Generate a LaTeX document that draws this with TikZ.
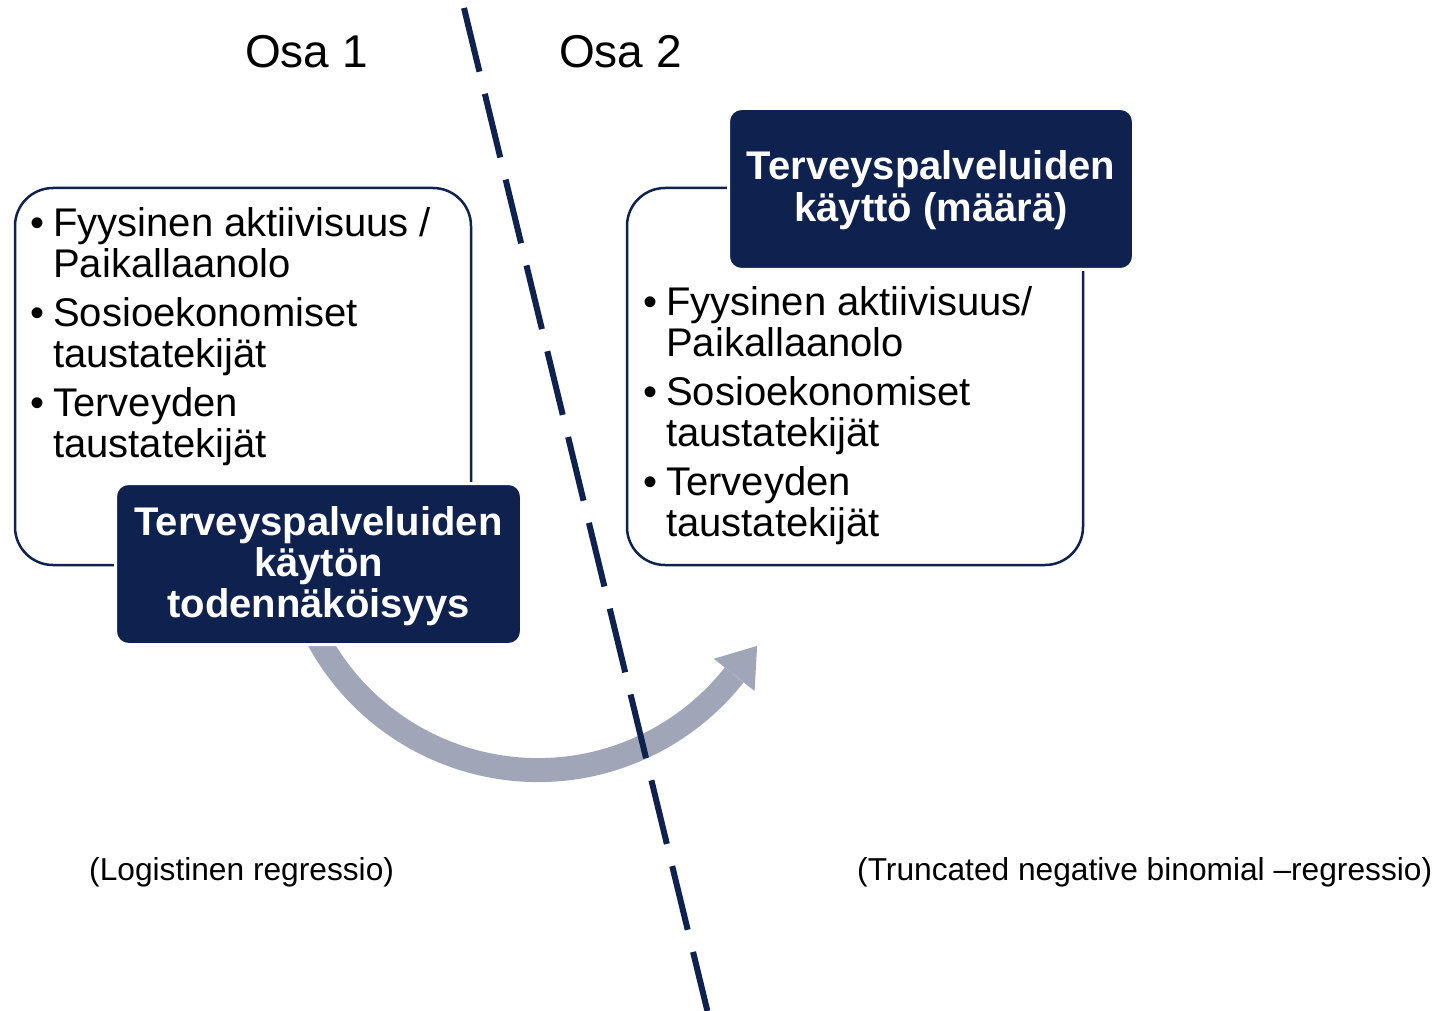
\documentclass[tikz,border=0pt]{standalone}
\usepackage{fontspec}
\setmainfont{Liberation Sans}
\definecolor{navy}{HTML}{0F214F}
\definecolor{arrowgray}{HTML}{A0A6B8}
\begin{document}
\begin{tikzpicture}[x=1pt,y=-1pt,
  outlinebox/.style={draw=navy, line width=2.5pt, fill=white, rounded corners=38pt, inner sep=0pt},
  darkbox/.style={draw=white, line width=3pt, fill=navy, rounded corners=13pt, inner sep=0pt},
  darktext/.style={text=white, inner sep=0pt, font=\fontsize{40}{41}\selectfont\bfseries},
  bullettext/.style={inner sep=0pt, anchor=base west, font=\fontsize{40}{40}\selectfont},
  plaintext/.style={inner sep=0pt, anchor=base west},
  shaft/.style={draw=arrowgray, line width=24pt},
  divider/.style={draw=navy, line width=6pt, dash pattern=on 65.5pt off 22.8pt}
]
\useasboundingbox[fill=white] (0,0) rectangle (1441,1011);

% curved arrow (behind boxes)
\coordinate (arcS) at (311.4,625.7);
\coordinate (arcE) at (734.2,674.9);
\coordinate (tip) at (757.1,645.9);
\coordinate (wingA) at (754.6,691.0);
\coordinate (wingB) at (713.8,658.8);
\draw[shaft] (arcS) arc[start angle=155, end angle=38.3, radius=250];
\fill[arrowgray] (tip) -- (wingA) -- (wingB) -- cycle;

% dashed divider
\coordinate (dT) at (464,8);
\coordinate (dB) at (707.4,1011);
\draw[divider] (dT) -- (dB);

% headers
\node[plaintext, font=\fontsize{46}{46}\selectfont] (osa1) at (245,68) {Osa 1};
\node[plaintext, font=\fontsize{46}{46}\selectfont] (osa2) at (559,68) {Osa 2};

% left part
\node[outlinebox, minimum width=456, minimum height=377] (lbox) at (243,376.5) {};
\node[bullettext] (ltext) at (30,237) {%
\begin{tabular}[t]{@{}l@{\hspace{9pt}}l@{}}
\textbullet & Fyysinen aktiivisuus /\\
 & Paikallaanolo\\[8pt]
\textbullet & Sosioekonomiset\\
 & taustatekijät\\[8pt]
\textbullet & Terveyden\\
 & taustatekijät
\end{tabular}};
\node[darkbox, minimum width=406, minimum height=161] (ldark) at (318.5,564) {};
\node[darktext, anchor=base] (ldarktext) at (318.5,535) {%
\begin{tabular}[t]{@{}c@{}}
Terveyspalveluiden\\
käytön\\
todennäköisyys
\end{tabular}};

% right part
\node[outlinebox, minimum width=456, minimum height=377] (rbox) at (855,376.5) {};
\node[darkbox, minimum width=405, minimum height=161] (rdark) at (931,189) {};
\node[darktext, anchor=base] (rdarktext) at (931,180) {%
\begin{tabular}[t]{@{}c@{}}
Terveyspalveluiden\\
käyttö (määrä)
\end{tabular}};
\node[bullettext] (rtext) at (643,316) {%
\begin{tabular}[t]{@{}l@{\hspace{9pt}}l@{}}
\textbullet & Fyysinen aktiivisuus/\\
 & Paikallaanolo\\[8pt]
\textbullet & Sosioekonomiset\\
 & taustatekijät\\[8pt]
\textbullet & Terveyden\\
 & taustatekijät
\end{tabular}};

% bottom labels
\node[plaintext, font=\fontsize{31.7}{32}\selectfont] (lreg) at (89,880) {(Logistinen regressio)};
\node[plaintext, font=\fontsize{31.7}{32}\selectfont] (rreg) at (857,880) {(Truncated negative binomial –regressio)};
\end{tikzpicture}
\end{document}
